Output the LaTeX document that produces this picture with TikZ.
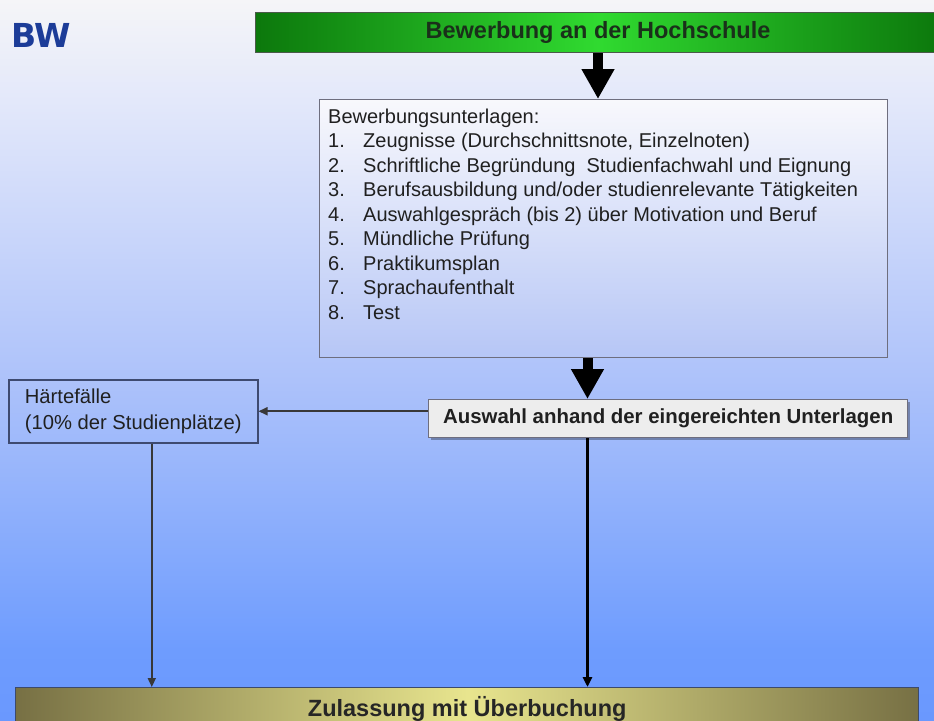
\documentclass[tikz,border=0pt]{standalone}
\usepackage{fontspec}
\setmainfont{Liberation Sans}
\newfontfamily\bwfont{DejaVu Sans}
\usetikzlibrary{arrows.meta,calc,shadows}
\definecolor{bgD}{HTML}{6A98FE}
\definecolor{bgC}{HTML}{6E9CFE}
\definecolor{bgB}{HTML}{ADC2FA}
\definecolor{bgA}{HTML}{E3E8FA}
\definecolor{bgT}{HTML}{F5F5F8}
\definecolor{bwblue}{HTML}{1C3C98}
\definecolor{gDark}{HTML}{0C780C}
\definecolor{gLight}{HTML}{30DA30}
\definecolor{gBorder}{HTML}{4A5A4A}
\definecolor{titletxt}{HTML}{1A301A}
\definecolor{listTop}{HTML}{F8F8FC}
\definecolor{listBot}{HTML}{B6C6F6}
\definecolor{boxBorder}{HTML}{6E6E7E}
\definecolor{txt}{HTML}{202020}
\definecolor{auswahlfill}{HTML}{EDEDED}
\definecolor{haerteBorder}{HTML}{3E4A70}
\definecolor{oDark}{HTML}{777044}
\definecolor{oLight}{HTML}{E8E58E}
\definecolor{oBorder}{HTML}{3C4A6C}
\pgfdeclareverticalshading{bgshade}{100bp}{color(0bp)=(bgD); color(25bp)=(bgD); color(29.86bp)=(bgC); color(48.6bp)=(bgB); color(68bp)=(bgA); color(75bp)=(bgT); color(100bp)=(bgT)}
\begin{document}
\begin{tikzpicture}[x=1pt,y=-1pt,
  titlebar/.style={left color=gDark, right color=gDark, middle color=gLight, draw=gBorder, line width=1pt,
    text=titletxt, font=\bfseries\fontsize{23.5}{26}\selectfont, inner sep=0},
  listbox/.style={top color=listTop, bottom color=listBot, draw=boxBorder, line width=1.4pt, inner sep=0},
  auswahlbox/.style={fill=auswahlfill, draw=boxBorder, line width=1.4pt, text=txt,
    font=\bfseries\fontsize{20.4}{24}\selectfont, inner sep=0,
    drop shadow={shadow xshift=2pt, shadow yshift=-2pt, fill=black, opacity=0.3}},
  haertebox/.style={draw=haerteBorder, line width=1.5pt, text=txt, align=left,
    font=\fontsize{20.2}{26}\selectfont, inner sep=0},
  zulbar/.style={left color=oDark, right color=oDark, middle color=oLight, draw=oBorder, line width=1.4pt,
    text=black!85, font=\bfseries\fontsize{23.5}{26}\selectfont, inner sep=0},
  bigarrow/.style={line width=10pt, -{Triangle[width=31pt, length=30pt]}},
  thinarrow/.style={draw=black!78, line width=1.7pt, -{Triangle[length=9pt, width=8pt]}},
  midarrow/.style={draw=black, line width=2.6pt, -{Triangle[length=10pt, width=9pt]}}
]
\useasboundingbox (0,0) rectangle (934,720);
\fill[shading=bgshade] (0,0) rectangle (934,720);

\node[text=bwblue, font=\bwfont\bfseries\fontsize{33}{33}\selectfont, anchor=base west, inner sep=0] (bw) at (11,47) {BW};

\node[titlebar, minimum width=685, minimum height=40, anchor=north west] (title) at (255,12) {Bewerbung an der Hochschule};

\node[listbox, minimum width=568, minimum height=258, anchor=north west] (unterlagen) at (319,99) {};
\node[anchor=north west, inner sep=0, text=txt, font=\fontsize{20}{24.5}\selectfont] (liste) at (328,106)
{\begin{tabular}{@{}p{35pt}@{}l@{}}
\multicolumn{2}{@{}l@{}}{Bewerbungsunterlagen:}\\
1. & Zeugnisse (Durchschnittsnote, Einzelnoten)\\
2. & Schriftliche Begründung~ Studienfachwahl und Eignung\\
3. & Berufsausbildung und/oder studienrelevante Tätigkeiten\\
4. & Auswahlgespräch (bis 2) über Motivation und Beruf\\
5. & Mündliche Prüfung\\
6. & Praktikumsplan\\
7. & Sprachaufenthalt\\
8. & Test
\end{tabular}};

\node[auswahlbox, minimum width=479, minimum height=38, anchor=north west] (auswahl) at (428,399) {Auswahl anhand der eingereichten Unterlagen};

\node[haertebox, minimum width=249, minimum height=63, anchor=north west] (haerte) at (8,379) {Härtefälle\\(10\% der Studienplätze)};

\node[zulbar, minimum width=903, minimum height=43, anchor=north west] (zul) at (15,687) {Zulassung mit Überbuchung};

\coordinate (axisA) at ($(auswahl.north west)!0.332!(auswahl.north east)$);
\coordinate (axisH) at ($(haerte.south west)!0.574!(haerte.south east)$);

\draw[bigarrow] (title.south) -- (title.south |- unterlagen.north);
\draw[bigarrow] (unterlagen.south -| axisA) -- (axisA);
\draw[thinarrow] (auswahl.west |- haerte.east) -- (haerte.east);
\draw[thinarrow] (axisH) -- (axisH |- zul.north);
\draw[midarrow] (auswahl.south -| axisA) -- (zul.north -| axisA);
\end{tikzpicture}
\end{document}
